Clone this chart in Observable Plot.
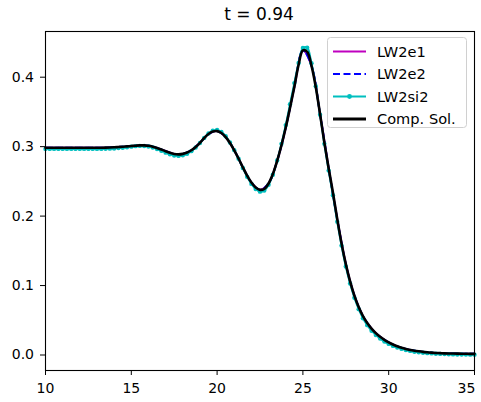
<!DOCTYPE html>
<html><head><meta charset="utf-8">
<script src="https://cdn.jsdelivr.net/npm/d3@7"></script>
<script src="https://cdn.jsdelivr.net/npm/@observablehq/plot@0.6"></script>
<style>body{margin:0;background:#fff}</style>
</head><body><div id="chart"></div>
<script>
const title = "t = 0.94";
const legendLabels = ["LW2e1", "LW2e2", "LW2si2", "Comp. Sol."];
const xTicks = [10, 15, 20, 25, 30, 35];
const yTicks = [0, 0.1, 0.2, 0.3, 0.4];

const xFine = [10,10.25,10.5,10.75,11,11.25,11.5,11.75,12,12.25,12.5,12.75,13,13.25,13.5,13.75,14,14.25,14.5,14.75,
15,15.25,15.5,15.75,16,16.25,16.5,16.75,17,17.25,17.5,17.75,18,18.25,18.5,18.75,19,19.25,19.5,19.75,
20,20.25,20.5,20.75,21,21.25,21.5,21.75,22,22.25,22.5,22.75,23,23.25,23.5,23.75,24,24.25,24.5,24.75,
25,25.25,25.5,25.75,26,26.25,26.5,26.75,27,27.25,27.5,27.75,28,28.25,28.5,28.75,29,29.25,29.5,29.75,
30,30.25,30.5,30.75,31,31.25,31.5,31.75,32,32.25,32.5,32.75,33,33.25,33.5,33.75,34,34.25,34.5,34.75,35];

const compSol = [.2985,.2985,.2985,.2985,.2985,.2985,.2985,.2985,.2985,.2985,.2985,.2985,.2985,.2985,.2986,.2988,.2991,.2995,.2999,.3004,
.3009,.3014,.3018,.3018,.3012,.3000,.2982,.2960,.2935,.2912,.2895,.2889,.2896,.2915,.2948,.2995,.3055,.3125,.3183,.3218,
.3224,.3196,.3137,.3052,.2948,.2830,.2702,.2583,.2483,.2412,.2378,.2393,.2470,.2605,.2795,.3020,.3275,.3560,.3860,.4180,
.4385,.4365,.4165,.3860,.3470,.3060,.2690,.2340,.1960,.1610,.1310,.1060,.0855,.0690,.0560,.0460,.0380,.0315,.0262,.0218,
.0182,.0151,.0125,.0104,.0087,.0073,.0062,.0053,.0045,.0039,.0034,.0030,.0027,.0024,.0022,.0021,.0020,.0019,.0018,.0017,.0017];

const lw2si2 = [.2968,.2968,.2968,.2968,.2968,.2968,.2968,.2968,.2968,.2968,.2968,.2968,.2968,.2968,.2969,.2971,.2974,.2979,.2985,.2992,
.3000,.3007,.3011,.3010,.3002,.2987,.2966,.2941,.2914,.2889,.2872,.2867,.2876,.2898,.2935,.2987,.3052,.3126,.3190,.3231,
.3240,.3212,.3150,.3060,.2950,.2825,.2692,.2567,.2464,.2390,.2352,.2368,.2450,.2595,.2800,.3040,.3310,.3610,.3915,.4205,
.4420,.4425,.4200,.3870,.3460,.3040,.2655,.2300,.1920,.1575,.1275,.1030,.0825,.0660,.0530,.0430,.0350,.0287,.0236,.0194,
.0160,.0131,.0107,.0088,.0072,.0059,.0048,.0040,.0033,.0027,.0023,.0019,.0016,.0013,.0011,.0009,.0008,.0007,.0006,.0005,.0005];

const xCoarse = [10,10.5,11,11.5,12,12.5,13,13.5,14,14.5,15,15.5,16,16.5,17,17.5,18,18.5,19,19.5,
20,20.5,21,21.5,22,22.5,23,23.5,24,24.5,25,25.5,26,26.5,27,27.5,28,28.5,29,29.5,
30,30.5,31,31.5,32,32.5,33,33.5,34,34.5,35];

const lw2e1 = [.2985,.2985,.2985,.2985,.2985,.2985,.2985,.2986,.2991,.2999,.3009,.3018,.3012,.2982,.2935,.2895,.2896,.2948,.3055,.3183,
.3224,.3137,.2948,.2702,.2483,.2378,.2470,.2795,.3275,.3860,.4385,.4165,.3470,.2690,.1960,.1310,.0855,.0560,.0380,.0262,
.0182,.0125,.0087,.0062,.0045,.0034,.0027,.0022,.0020,.0018,.0017];

const lw2e2 = [.2985,.2985,.2985,.2985,.2985,.2985,.2985,.2986,.2991,.2999,.3009,.3018,.3012,.2982,.2935,.2895,.2896,.2948,.3055,.3183,
.3225,.3138,.2948,.2702,.2482,.2377,.2470,.2796,.3276,.3862,.4387,.4166,.3470,.2689,.1959,.1309,.0855,.0560,.0380,.0262,
.0182,.0125,.0087,.0062,.0045,.0034,.0027,.0022,.0020,.0018,.0017];

const fine = xFine.map((x, i) => ({x, comp: compSol[i], si: lw2si2[i]}));
const coarse = xCoarse.map((x, i) => ({x, e1: lw2e1[i], e2: lw2e2[i]}));

const colors = {e1: "#bf00bf", e2: "#0000ff", si: "#00bfbf", comp: "#000000"};
const lastTick = xTicks[xTicks.length - 1];

const plot = Plot.plot({
  width: 481, height: 402,
  marginLeft: 45, marginRight: 7, marginTop: 31, marginBottom: 32,
  x: {domain: [10, 35]},
  y: {domain: [-0.0223, 0.4658]},
  style: {fontFamily: "'DejaVu Sans', sans-serif", fontSize: "14px", color: "#000", background: "#fff"},
  marks: [
    Plot.line(coarse, {x: "x", y: "e1", stroke: colors.e1, strokeWidth: 2, curve: "catmull-rom"}),
    Plot.line(coarse, {x: "x", y: "e2", stroke: colors.e2, strokeWidth: 2, strokeDasharray: "7,3", curve: "catmull-rom"}),
    Plot.line(fine, {x: "x", y: "si", stroke: colors.si, strokeWidth: 2, curve: "catmull-rom"}),
    Plot.dot(fine, {x: "x", y: "si", fill: colors.si, r: 2.2}),
    Plot.line(fine, {x: "x", y: "comp", stroke: colors.comp, strokeWidth: 2.6, curve: "catmull-rom"}),
    Plot.frame({stroke: "#000", strokeWidth: 1.1}),
    Plot.axisX({ticks: xTicks, tickSize: 5, tickPadding: 8, label: null, tickFormat: d => d === lastTick ? "" : String(d)}),
    Plot.axisX({ticks: [lastTick], tickSize: 0, tickPadding: 13, dx: -8, label: null, tickFormat: d => String(d)}),
    Plot.axisY({ticks: yTicks, tickSize: 5, tickPadding: 6.5, label: null, tickFormat: d3.format(".1f")})
  ]
});
document.getElementById("chart").appendChild(plot);

const svg = d3.select(plot);
svg.append("text")
  .attr("x", 259).attr("y", 20)
  .attr("text-anchor", "middle")
  .attr("font-size", "17px")
  .attr("fill", "#000")
  .text(title);

const lg = svg.append("g").attr("font-size", "14.6px").attr("text-anchor", "start");
lg.append("rect")
  .attr("x", 327.5).attr("y", 37.5).attr("width", 139).attr("height", 90).attr("rx", 3)
  .attr("fill", "rgba(255,255,255,0.85)").attr("stroke", "#d0d0d0");
const rowsY = [51.5, 74, 96.5, 119];
const styles = [
  {c: colors.e1, w: 2, dash: null, marker: false},
  {c: colors.e2, w: 2, dash: "7,3.5", marker: false},
  {c: colors.si, w: 2, dash: null, marker: true},
  {c: colors.comp, w: 2.8, dash: null, marker: false}
];
legendLabels.forEach((lab, i) => {
  const y = rowsY[i], s = styles[i];
  const ln = lg.append("line").attr("x1", 333).attr("x2", 366).attr("y1", y).attr("y2", y)
    .attr("stroke", s.c).attr("stroke-width", s.w);
  if (s.dash) ln.attr("stroke-dasharray", s.dash);
  if (s.marker) lg.append("circle").attr("cx", 349.5).attr("cy", y).attr("r", 2.4).attr("fill", s.c);
  lg.append("text").attr("x", 377).attr("y", y).attr("dy", "0.35em").attr("text-anchor", "start").attr("fill", "#000").text(lab);
});
</script>
</body></html>
